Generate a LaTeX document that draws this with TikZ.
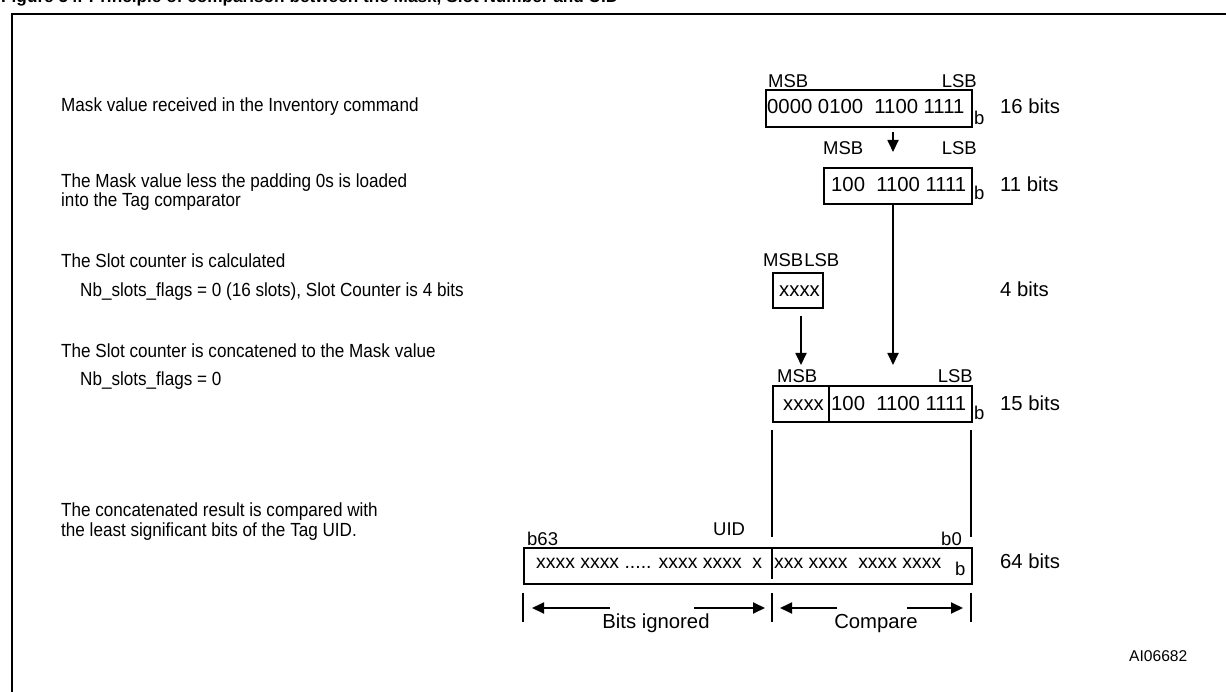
\documentclass[tikz,border=0pt]{standalone}
\usepackage{fontspec}
\setmainfont{Liberation Sans}
\newfontfamily\narrowfont[FakeStretch=0.9]{Liberation Sans}
\usetikzlibrary{arrows.meta,calc}
\begin{document}
\begin{tikzpicture}[x=1pt,y=-1pt,
  lbl/.style={anchor=base west,inner sep=0,font=\narrowfont\fontsize{19}{19}\selectfont},
  rtxt/.style={anchor=base west,inner sep=0,font=\fontsize{20.3}{20.3}\selectfont},
  uidtxt/.style={anchor=base west,inner sep=0,font=\fontsize{19.4}{19.4}\selectfont},
  msb/.style={anchor=base west,inner sep=0,font=\fontsize{18.5}{18.5}\selectfont},
  lsb/.style={anchor=base east,inner sep=0,font=\fontsize{18.5}{18.5}\selectfont},
  subb/.style={anchor=base west,inner sep=0,font=\fontsize{18.5}{18.5}\selectfont},
  bitbox/.style={draw,line width=1.8,inner sep=0,anchor=north west},
  ln/.style={line width=1.8},
  arr/.style={line width=1.8,-{Triangle[length=12,width=11]}}]
\useasboundingbox (0,0) rectangle (1226,692);
% frame and title
\draw[line width=2] (12,700) -- (12,14) -- (1230,14);
\node[anchor=base west,inner sep=0,font=\bfseries\fontsize{17.2}{17.2}\selectfont] (title) at (1,3) {Figure 54. Principle of comparison between the Mask, Slot Number and UID};
% left labels
\node[lbl] (l1) at (61,112) {Mask value received in the Inventory command};
\node[lbl] (l2a) at (61,188) {The Mask value less the padding 0s is loaded};
\node[lbl] (l2b) at (61,207) {into the Tag comparator};
\node[lbl] (l3a) at (61,268) {The Slot counter is calculated};
\node[lbl] (l3b) at (80,297) {Nb\_slots\_flags = 0 (16 slots), Slot Counter is 4 bits};
\node[lbl] (l4a) at (61,358) {The Slot counter is concatened to the Mask value};
\node[lbl] (l4b) at (80,386) {Nb\_slots\_flags = 0};
\node[lbl] (l5a) at (61,516) {The concatenated result is compared with};
\node[lbl] (l5b) at (61,536) {the least significant bits of the Tag UID.};
% box 1
\node[msb] (msb1) at (768,88) {MSB};
\node[lsb] (lsb1) at (977,88) {LSB};
\node[bitbox,minimum width=206,minimum height=37] (b1) at (765,89) {};
\node[rtxt] (t1) at (767,114) {0000 0100\ \ 1100 1111};
\node[subb] (s1) at (974,125) {b};
\node[rtxt] (n1) at (1000,114) {16 bits};
\coordinate (a1s) at (893,132);
\coordinate (a1e) at (893,152);
\draw[arr] (a1s) -- (a1e);
% box 2
\node[msb] (msb2) at (823,155) {MSB};
\node[lsb] (lsb2) at (977,155) {LSB};
\node[bitbox,minimum width=148,minimum height=36] (b2) at (823,167) {};
\node[rtxt] (t2) at (831,192) {100\ \ 1100 1111};
\node[subb] (s2) at (974,200) {b};
\node[rtxt] (n2) at (1000,192) {11 bits};
% box 3
\node[msb] (msb3) at (763,267) {MSB\kern1ptLSB};
\node[bitbox,minimum width=50,minimum height=35] (b3) at (772,272) {};
\node[rtxt] (t3) at (779,297) {xxxx};
\node[rtxt] (n3) at (1000,297) {4 bits};
% box 4
\node[msb] (msb4) at (777,382) {MSB};
\node[lsb] (lsb4) at (973,382) {LSB};
\node[bitbox,minimum width=199,minimum height=36] (b4) at (772,385) {};
\draw[ln] (829,385) -- (829,421);
\node[rtxt] (t4a) at (783,410) {xxxx};
\node[rtxt] (t4b) at (831,410) {100\ \ 1100 1111};
\node[subb] (s4) at (974,419) {b};
\node[rtxt] (n4) at (1000,410) {15 bits};
% arrows into box 4
\coordinate (a2e) at (893,365);
\draw[arr] (b2.south -| a2e) -- (a2e);
\coordinate (a3s) at (801,316);
\coordinate (a3e) at (801,365);
\draw[arr] (a3s) -- (a3e);
% vertical guides
\coordinate (g1s) at (772,430); \coordinate (g1e) at (772,537);
\coordinate (g2s) at (971,430); \coordinate (g2e) at (971,537);
\draw[ln] (g1s) -- (g1e);
\draw[ln] (g2s) -- (g2e);
% UID box
\node[msb] (b63) at (527,545) {b63};
\node[msb] (uidl) at (713,535) {UID};
\node[lsb] (b0) at (962,545) {b0};
\node[bitbox,minimum width=448,minimum height=36] (uid) at (523,547) {};
\draw[ln] (772,547) -- (772,579);
\node[uidtxt] (t5a) at (536,568) {xxxx xxxx ..... xxxx xxxx\ \ x};
\node[uidtxt] (t5b) at (774,568) {xxx xxxx\ \ xxxx xxxx};
\node[subb] (s5) at (955,575) {b};
\node[rtxt] (n5) at (1000,568) {64 bits};
% ticks and range arrows
\draw[ln] (523,593) -- (523,622);
\draw[ln] (772,593) -- (772,622);
\draw[ln] (971,593) -- (971,622);
\coordinate (r1a) at (610,608); \coordinate (r1b) at (532,608);
\coordinate (r2a) at (694,608); \coordinate (r2b) at (765,608);
\coordinate (r3a) at (837,608); \coordinate (r3b) at (780,608);
\coordinate (r4a) at (907,608); \coordinate (r4b) at (963,608);
\draw[arr] (r1a) -- (r1b);
\draw[arr] (r2a) -- (r2b);
\draw[arr] (r3a) -- (r3b);
\draw[arr] (r4a) -- (r4b);
\node[rtxt,anchor=base] (bi) at (656,628) {Bits ignored};
\node[rtxt,anchor=base] (cmp) at (876,628) {Compare};
\node[anchor=base west,inner sep=0,font=\fontsize{15.6}{15.6}\selectfont] (ai) at (1129,661) {AI06682};
\end{tikzpicture}
\end{document}
